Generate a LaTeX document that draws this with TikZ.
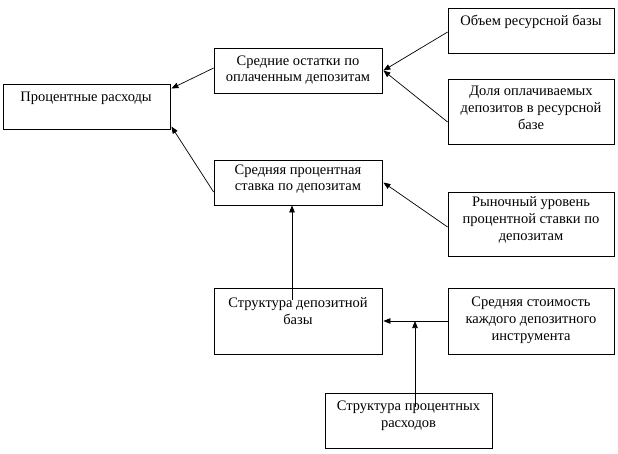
\documentclass[tikz,border=0pt]{standalone}
\usepackage{fontspec}
\setmainfont{Liberation Serif}
\usetikzlibrary{arrows.meta}
\begin{document}
\begin{tikzpicture}[x=1pt,y=-1pt,
  box/.style={draw,line width=0.8pt,inner sep=0pt,minimum width=#1},
  box/.default=167pt,
  lbl/.style={align=center,inner sep=0pt,font=\fontsize{14.5}{16.8}\selectfont},
  conn/.style={line width=0.7pt,-{Triangle[length=7pt,width=5.5pt]}}]
\useasboundingbox (0,0) rectangle (618,453);
% boxes
\node[box=167pt,minimum height=45pt] (A) at (86.5,106.5) {};
\node[box=168pt,minimum height=45pt] (B) at (298,70.5) {};
\node[box=168pt,minimum height=45pt] (C) at (298,182.5) {};
\node[box=168pt,minimum height=66pt] (D) at (298,321) {};
\node[box=166pt,minimum height=45pt] (E) at (531,30.5) {};
\node[box=166pt,minimum height=65pt] (F) at (531,111.5) {};
\node[box=166pt,minimum height=64pt] (G) at (531,224) {};
\node[box=166pt,minimum height=66pt] (H) at (531,321) {};
\node[box=167pt,minimum height=55pt] (I) at (408.5,420.5) {};
% texts
\node[lbl] (tA) at (86,98) {Процентные расходы};
\node[lbl] (tB) at (298,70) {Средние остатки по\\оплаченным депозитам};
\node[lbl] (tC) at (298,179) {Средняя процентная\\ставка по депозитам};
\node[lbl] (tD) at (298,311) {Структура депозитной\\базы};
\node[lbl] (tE) at (531,22) {Объем ресурсной базы};
\node[lbl] (tF) at (531,108) {Доля оплачиваемых\\депозитов в ресурсной\\базе};
\node[lbl] (tG) at (531,220) {Рыночный уровень\\процентной ставки по\\депозитам};
\node[lbl] (tH) at (531,320) {Средняя стоимость\\каждого депозитного\\инструмента};
\node[lbl] (tI) at (408.5,416) {Структура процентных\\расходов};
% connectors
\coordinate (d1) at ([xshift=-6pt,yshift=-12pt]D.north);
\coordinate (c1) at ([xshift=-6pt]C.south);
\coordinate (i1) at ([xshift=6.5pt,yshift=-14pt]I.north);
\draw[conn] ([yshift=2.5pt]B.west) -- ([xshift=1pt,yshift=18pt]A.east);
\draw[conn] ([yshift=-9.5pt]C.west) -- ([xshift=1pt,yshift=-20pt]A.east);
\draw[conn] ([yshift=-1.5pt]E.west) -- ([xshift=1pt]B.east);
\draw[conn] ([yshift=-10.5pt]F.west) -- ([xshift=1pt]B.east);
\draw[conn] ([yshift=-3pt]G.west) -- ([xshift=1pt]C.east);
\draw[conn] (d1) -- (c1);
\draw[conn] (H.west) -- ([xshift=1pt]D.east);
\draw[conn] (i1) -- (i1 |- D.east);
\end{tikzpicture}
\end{document}
